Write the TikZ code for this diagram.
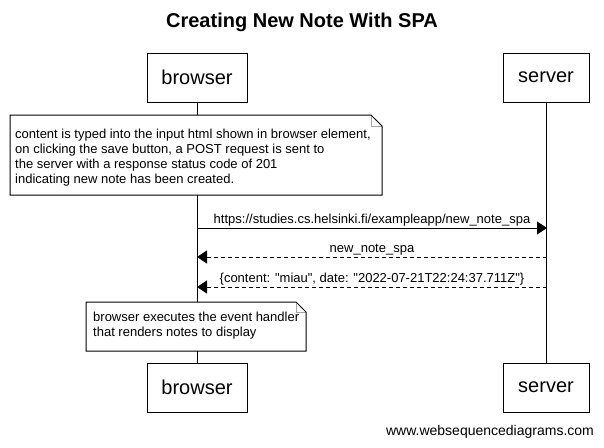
\documentclass[tikz,border=0pt]{standalone}
\usepackage{fontspec}
\setmainfont{Liberation Sans}
\usetikzlibrary{arrows.meta}
\tikzset{
  actor/.style={draw, line width=1pt, fill=white, minimum height=49pt, inner sep=0pt, font=\fontsize{20}{24}\selectfont},
  notebox/.style={inner ysep=0pt, align=left, font=\fontsize{13}{15}\selectfont},
  notefold/.style={draw=gray!70, line width=0.8pt},
  msg/.style={line width=1pt, -{Triangle[length=10pt,width=13pt]}},
  reply/.style={msg, dash pattern=on 4pt off 3pt},
  msglabel/.style={midway, above=0pt, inner sep=1pt, font=\fontsize{13}{14}\selectfont},
  lifeline/.style={line width=1pt}
}
\newcommand{\qq}{\textquotedbl}
\begin{document}
\begin{tikzpicture}[x=1pt,y=-1pt]
\useasboundingbox (0,0) rectangle (604,447);
\node[font=\fontsize{20}{24}\selectfont\bfseries] (title) at (302,22) {Creating New Note With SPA};
% participants
\node[actor, minimum width=100pt] (bt) at (197,77.5) {browser};
\node[actor, minimum width=86pt] (st) at (546,77.5) {server};
\node[actor, minimum width=100pt] (bb) at (197,387.5) {browser};
\node[actor, minimum width=86pt] (sb) at (546,387.5) {server};
\draw[lifeline] (bt.south) -- (bb.north);
\draw[lifeline] (st.south) -- (sb.north);
% note 1
\coordinate (n1nw) at (10,115);
\coordinate (n1se) at (382,195);
\coordinate (n1a) at (371,115);
\coordinate (n1b) at (382,126);
\coordinate (n1c) at (371,126);
\fill[white] (n1nw) -- (n1a) -- (n1b) -- (n1se) -- (n1nw |- n1se) -- cycle;
\draw[notefold] (n1a) -- (n1c) -- (n1b);
\draw[line width=1pt] (n1nw) -- (n1a) -- (n1b) -- (n1se) -- (n1nw |- n1se) -- cycle;
\node[notebox, anchor=west, inner xsep=0pt] (n1) at (15,157.5) {content is typed into the input html shown in browser element,\\on clicking the save button, a POST request is sent to\\the server with a response status code of 201\\indicating new note has been created.};
% messages
\coordinate (b1) at (197,228);
\coordinate (s1) at (547,228);
\coordinate (b2) at (197,257);
\coordinate (s2) at (547,257);
\coordinate (b3) at (197,287);
\coordinate (s3) at (547,287);
\draw[msg] (b1) -- (s1) node[msglabel] {https://studies.cs.helsinki.fi/exampleapp/new\_note\_spa};
\draw[reply] (s2) -- (b2) node[msglabel] {new\_note\_spa};
\draw[reply] (s3) -- (b3) node[msglabel] {\{content: \qq miau\qq, date: \qq 2022-07-21T22:24:37.711Z\qq\}};
% note 2
\coordinate (n2nw) at (86,302);
\coordinate (n2se) at (306,351);
\coordinate (n2a) at (296,302);
\coordinate (n2b) at (306,312);
\coordinate (n2c) at (296,312);
\fill[white] (n2nw) -- (n2a) -- (n2b) -- (n2se) -- (n2nw |- n2se) -- cycle;
\draw[notefold] (n2a) -- (n2c) -- (n2b);
\draw[line width=1pt] (n2nw) -- (n2a) -- (n2b) -- (n2se) -- (n2nw |- n2se) -- cycle;
\node[notebox, anchor=west, inner xsep=0pt] (n2) at (93,325.5) {browser executes the event handler\\that renders notes to display};
% footer
\node[font=\fontsize{14}{17}\selectfont] (footer) at (490,432) {www.websequencediagrams.com};
\end{tikzpicture}
\end{document}
